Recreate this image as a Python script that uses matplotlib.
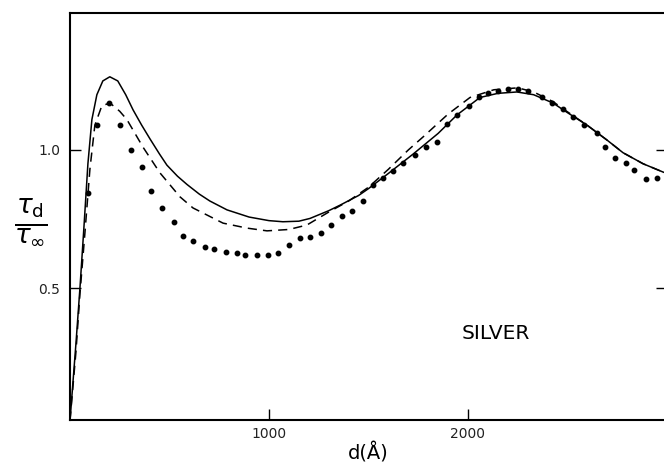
import numpy as np
import matplotlib.pyplot as plt

# thickness d (Angstrom) and tau_d / tau_inf
solid_d = [0, 30, 50, 70, 90, 110, 135, 165, 200, 240, 280, 317, 360, 402, 450,
           487, 540, 588, 650, 703, 789, 900, 1000, 1070, 1150, 1206, 1300, 1357,
           1450, 1500, 1600, 1724, 1850, 1945, 2060, 2150, 2246, 2330, 2427, 2500,
           2598, 2700, 2779, 2880, 2980, 3000]
solid_r = [0.02, 0.30, 0.50, 0.72, 0.95, 1.11, 1.20, 1.25, 1.265, 1.25, 1.20, 1.145,
           1.09, 1.04, 0.985, 0.945, 0.905, 0.875, 0.84, 0.815, 0.783, 0.757,
           0.744, 0.74, 0.742, 0.752, 0.78, 0.80, 0.835, 0.86, 0.915, 0.985, 1.06,
           1.127, 1.19, 1.205, 1.21, 1.20, 1.17, 1.135, 1.09, 1.035, 0.99, 0.95,
           0.92, 0.915]

dashed_d = [0, 30, 50, 75, 100, 125, 160, 201, 250, 286, 367, 452, 553, 618, 769,
            889, 990, 1100, 1190, 1300, 1400, 1500, 1600, 1700, 1774, 1900, 2010,
            2130, 2250, 2330, 2427, 2500, 2598, 2700, 2779, 2880, 2980, 3000]
dashed_r = [0.02, 0.27, 0.48, 0.70, 0.93, 1.09, 1.16, 1.17, 1.14, 1.11, 1.01, 0.917,
            0.83, 0.79, 0.735, 0.717, 0.707, 0.712, 0.728, 0.775, 0.815, 0.865,
            0.93, 1.0, 1.047, 1.13, 1.19, 1.218, 1.225, 1.21, 1.175, 1.138, 1.09,
            1.035, 0.99, 0.95, 0.92, 0.915]

dots_d = [90, 136, 195, 251, 307, 362, 407, 462, 523, 568, 618, 678, 724, 784, 837,
          879, 940, 995, 1045, 1100, 1156, 1206, 1261, 1312, 1367, 1417, 1472, 1523,
          1573, 1623, 1673, 1734, 1789, 1844, 1895, 1945, 2005, 2055, 2100, 2150,
          2200, 2250, 2300, 2372, 2422, 2477, 2530, 2583, 2648, 2688, 2739, 2794,
          2834, 2894, 2950]
dots_r = [0.845, 1.09, 1.17, 1.09, 1.0, 0.94, 0.85, 0.79, 0.74, 0.69, 0.67, 0.65,
          0.64, 0.63, 0.625, 0.62, 0.62, 0.62, 0.625, 0.656, 0.68, 0.685, 0.70,
          0.73, 0.76, 0.78, 0.815, 0.873, 0.90, 0.925, 0.953, 0.982, 1.01, 1.03,
          1.095, 1.127, 1.16, 1.19, 1.205, 1.215, 1.22, 1.22, 1.215, 1.19, 1.17,
          1.15, 1.12, 1.09, 1.06, 1.01, 0.97, 0.953, 0.927, 0.895, 0.90]

xticks = [1000, 2000]
xticklabels = ["1000", "2000"]
yticks = [0.5, 1.0]
yticklabels = ["0.5", "1.0"]

fig = plt.figure(figsize=(6.64, 4.71), dpi=100)
ax = fig.add_axes([70 / 664, 51 / 471, 597 / 664, 407 / 471])

ax.plot(solid_d, solid_r, color="black", lw=1.1, solid_joinstyle="round")
ax.plot(dashed_d, dashed_r, color="black", lw=1.1, linestyle=(0, (6, 4)))
ax.plot(dots_d, dots_r, linestyle="none", marker="o", markersize=3.2,
        color="black")

ax.set_xlim(0, 3000)
ax.set_ylim(0.022, 1.496)

ax.set_xticks(xticks)
ax.set_xticklabels(xticklabels)
ax.set_yticks(yticks)
ax.set_yticklabels(yticklabels)
ax.tick_params(direction="in", length=8, width=1, labelsize=10,
               labelcolor="#222222", right=True)
ax.tick_params(axis="x", pad=5)
ax.tick_params(axis="y", pad=7)

for s in ax.spines.values():
    s.set_linewidth(1.5)

ax.set_xlabel("d(Å)", fontsize=14, labelpad=1)
fig.text(31 / 664, 1 - 222 / 471, r"$\frac{\tau_{\rm d}}{\tau_\infty}$",
         fontsize=27, ha="center", va="center")
ax.text(2140, 0.337, "SILVER", fontsize=14.5, ha="center", va="center")

fig.savefig("out.png", dpi=100)
